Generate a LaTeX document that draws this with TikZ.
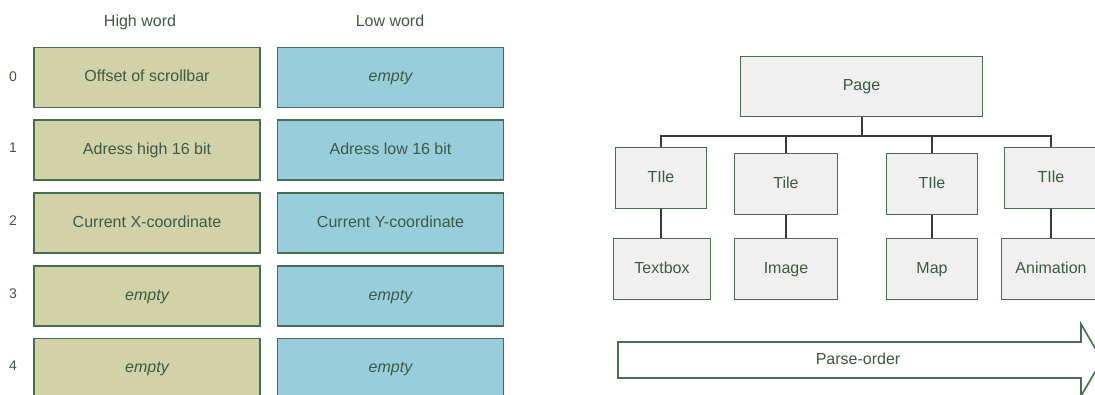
\documentclass[tikz,border=0pt]{standalone}
\usepackage{fontspec}
\setmainfont{Liberation Sans}
\definecolor{olivefill}{HTML}{D2D2A8}
\definecolor{bluefill}{HTML}{98CEDC}
\definecolor{frame}{HTML}{466F52}
\definecolor{ink}{HTML}{3C5A44}
\definecolor{greyfill}{HTML}{F0F0F0}
\definecolor{wire}{HTML}{3A3A3A}
\begin{document}
\begin{tikzpicture}[x=1pt,y=-1pt,
  every node/.style={font=\fontsize{16}{19}\selectfont, text=ink, text height=11.5pt, text depth=3.5pt},
  wordbox/.style={draw=frame, line width=1.8pt, minimum width=226pt, minimum height=60pt, inner sep=0pt},
  highbox/.style={wordbox, fill=olivefill},
  lowbox/.style={wordbox, fill=bluefill},
  treebox/.style={draw=frame, line width=1.6pt, fill=greyfill, inner sep=0pt},
  wirestyle/.style={draw=wire, line width=1.5pt},
  rowlabel/.style={font=\fontsize{14}{16}\selectfont}]
\useasboundingbox (0,0) rectangle (1095,394);
\clip (0,0) rectangle (1095,394);

% column headings
\node (hhigh) at (140,22) {High word};
\node (hlow) at (390,22) {Low word};

% register rows
\node[highbox] (h0) at (147,77.5) {Offset of scrollbar};
\node[lowbox]  (l0) at (390.5,77.5) {\itshape empty};
\node[highbox] (h1) at (147,150) {Adress high 16 bit};
\node[lowbox]  (l1) at (390.5,150) {Adress low 16 bit};
\node[highbox] (h2) at (147,223) {Current X-coordinate};
\node[lowbox]  (l2) at (390.5,223) {Current Y-coordinate};
\node[highbox] (h3) at (147,296) {\itshape empty};
\node[lowbox]  (l3) at (390.5,296) {\itshape empty};
\node[highbox] (h4) at (147,368.5) {\itshape empty};
\node[lowbox]  (l4) at (390.5,368.5) {\itshape empty};

\node[rowlabel] (r0) at (13,77) {0};
\node[rowlabel] (r1) at (13,148) {1};
\node[rowlabel] (r2) at (13,221) {2};
\node[rowlabel] (r3) at (13,294) {3};
\node[rowlabel] (r4) at (13,366) {4};

% page tree
\node[treebox, minimum width=242pt, minimum height=60pt] (page) at (861.5,86.5) {Page};

\node[treebox, minimum width=91pt, minimum height=61pt] (t1) at (661,178) {TIle};
\node[treebox, minimum width=103pt, minimum height=61pt] (t2) at (786,184) {Tile};
\node[treebox, minimum width=91pt, minimum height=61pt] (t3) at (932,184) {TIle};
\node[treebox, minimum width=93pt, minimum height=61pt] (t4) at (1051,178) {TIle};

\node[treebox, minimum width=97pt, minimum height=61pt] (c1) at (662,269) {Textbox};
\node[treebox, minimum width=103pt, minimum height=61pt] (c2) at (786,269) {Image};
\node[treebox, minimum width=91pt, minimum height=61pt] (c3) at (932,269) {Map};
\node[treebox, minimum width=99pt, minimum height=61pt] (c4) at (1051,269) {Animation};

\coordinate (bus) at (861.5,136);
\draw[wirestyle, line width=2pt] (page.south) -- (bus);
\draw[wirestyle] (t1.north) |- (bus) -| (t4.north);
\draw[wirestyle] (bus) -| (t2.north);
\draw[wirestyle] (bus) -| (t3.north);
\draw[wirestyle] (t1.south) -- (c1.north -| t1.south);
\draw[wirestyle] (t2.south) -- (c2.north);
\draw[wirestyle] (t3.south) -- (c3.north);
\draw[wirestyle] (t4.south) -- (c4.north);

% parse-order arrow
\draw[draw=frame, line width=1.6pt, fill=white, line join=miter]
  (618,342) -- (1081,342) -- (1081,324) -- (1102,360) -- (1081,396)
  -- (1081,378) -- (618,378) -- cycle;
\node (parse) at (858,360) {Parse-order};
\end{tikzpicture}
\end{document}
